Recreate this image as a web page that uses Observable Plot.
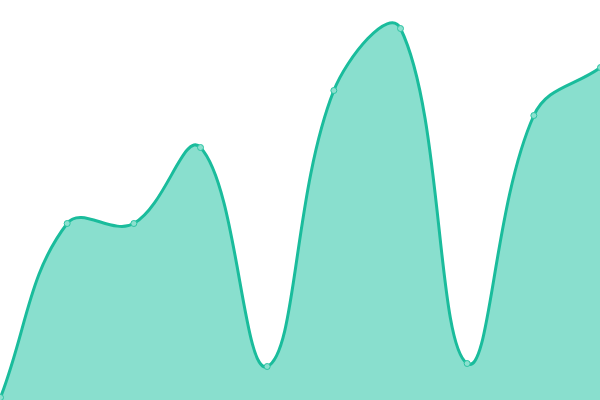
<!DOCTYPE html>
<html>
<head>
<meta charset="utf-8">
<script src="https://cdn.jsdelivr.net/npm/d3@7"></script>
<script src="https://cdn.jsdelivr.net/npm/@observablehq/plot@0.6"></script>
<style>
  html, body { margin: 0; padding: 0; background: #fff; overflow: hidden; }
  #chart svg { display: block; overflow: hidden; }
</style>
</head>
<body>
<div id="chart"></div>
<script>
// Data
const labels = ["1", "2", "3", "4", "5", "6", "7", "8", "9", "10"];
const values = [3, 177, 177, 253, 34, 310, 372, 37, 285, 333];

const W = 600, H = 400;
const data = labels.map((l, i) => ({ i, label: l, v: values[i] }));

// Spline with distance-weighted control points (tension 0.4), capped to the plot area
function tensionSpline(context) {
  const t = 0.4;
  const clamp = (v, lo, hi) => Math.max(lo, Math.min(hi, v));
  return {
    _line: NaN,
    _pts: [],
    areaStart() { this._line = 0; },
    areaEnd() { this._line = NaN; },
    lineStart() { this._pts = []; },
    lineEnd() {
      const p = this._pts, n = p.length;
      if (n) {
        if (this._line) context.lineTo(p[0][0], p[0][1]);
        else context.moveTo(p[0][0], p[0][1]);
        const cp = p.map((cur, i) => {
          const prev = p[Math.max(i - 1, 0)], next = p[Math.min(i + 1, n - 1)];
          const d01 = Math.hypot(cur[0] - prev[0], cur[1] - prev[1]);
          const d12 = Math.hypot(next[0] - cur[0], next[1] - cur[1]);
          let s01 = d01 / (d01 + d12), s12 = d12 / (d01 + d12);
          if (isNaN(s01)) s01 = 0;
          if (isNaN(s12)) s12 = 0;
          const fa = t * s01, fb = t * s12;
          return {
            px: clamp(cur[0] - fa * (next[0] - prev[0]), 0, W),
            py: clamp(cur[1] - fa * (next[1] - prev[1]), 0, H),
            nx: clamp(cur[0] + fb * (next[0] - prev[0]), 0, W),
            ny: clamp(cur[1] + fb * (next[1] - prev[1]), 0, H)
          };
        });
        for (let i = 1; i < n; ++i) {
          context.bezierCurveTo(cp[i - 1].nx, cp[i - 1].ny, cp[i].px, cp[i].py, p[i][0], p[i][1]);
        }
      }
      if (this._line || (this._line !== 0 && n === 1)) context.closePath();
      this._line = 1 - this._line;
    },
    point(x, y) { this._pts.push([+x, +y]); }
  };
}

const chart = Plot.plot({
  width: W,
  height: H,
  margin: 0,
  x: { domain: [0, labels.length - 1], range: [0, W], axis: null },
  y: { domain: [0, 400], range: [H, 0], axis: null },
  marks: [
    Plot.areaY(data, { x: "i", y: "v", curve: tensionSpline, fill: "#89dfce" }),
    Plot.line(data, { x: "i", y: "v", curve: tensionSpline, stroke: "#1abc9c", strokeWidth: 3 }),
    Plot.dot(data, { x: "i", y: "v", r: 3, fill: "#8ce0cf", stroke: "#2cc4a3", strokeWidth: 1 })
  ]
});
document.getElementById("chart").appendChild(chart);
</script>
</body>
</html>
